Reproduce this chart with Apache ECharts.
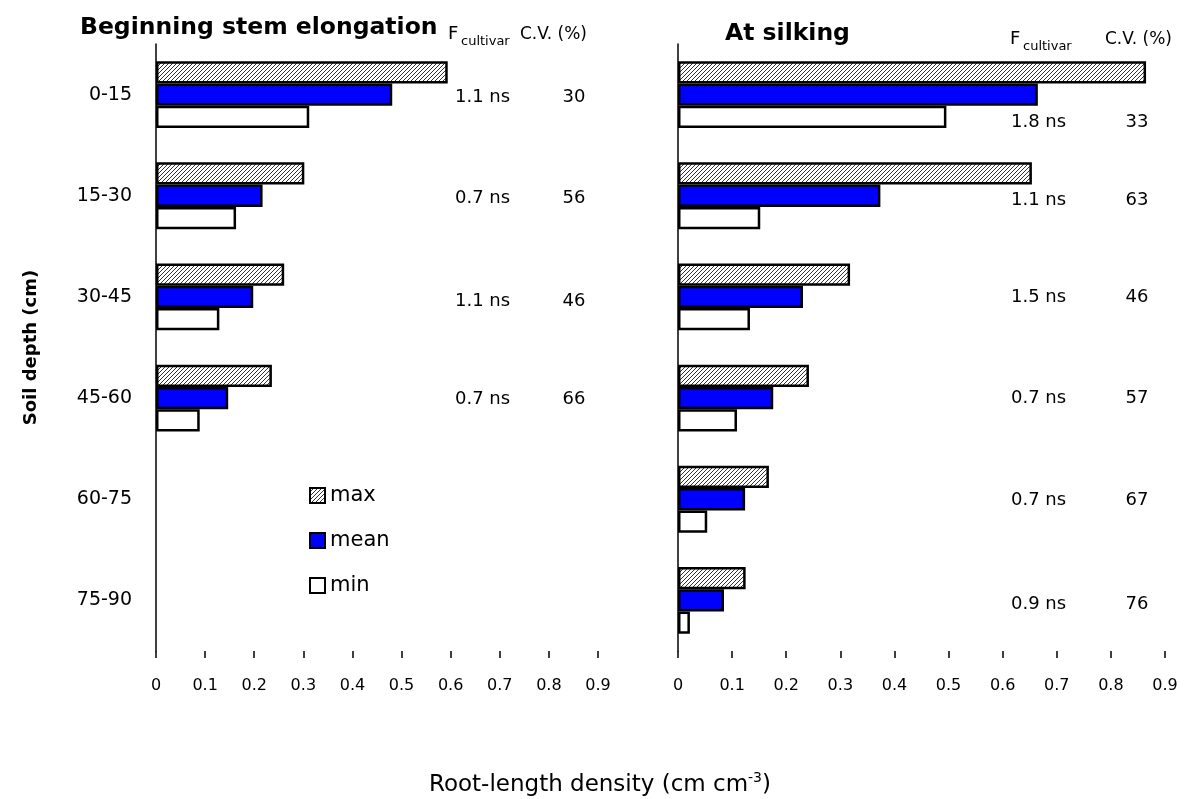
<!DOCTYPE html>
<html>
<head>
<meta charset="utf-8">
<script src="https://cdn.jsdelivr.net/npm/echarts@6/dist/echarts.min.js"></script>
<style>
html,body{margin:0;padding:0;background:#fff}
#chart{width:1197px;height:799px}
</style>
</head>
<body>
<div id="chart"></div>
<script>
// soil depth classes
var depths = ['0-15', '15-30', '30-45', '45-60', '60-75', '75-90'];
// beginning stem elongation
var stemMax  = [0.594, 0.302, 0.261, 0.236, '-', '-'];
var stemMean = [0.481, 0.217, 0.198, 0.147, '-', '-'];
var stemMin  = [0.312, 0.163, 0.129, 0.089, '-', '-'];
var stemF  = ['1.1 ns', '0.7 ns', '1.1 ns', '0.7 ns'];
var stemCV = ['30', '56', '46', '66'];
// at silking
var silkMax  = [0.865, 0.654, 0.318, 0.242, 0.168, 0.125];
var silkMean = [0.665, 0.374, 0.231, 0.176, 0.124, 0.085];
var silkMin  = [0.496, 0.152, 0.133, 0.109, 0.054, 0.022];
var silkF  = ['1.8 ns', '1.1 ns', '1.5 ns', '0.7 ns', '0.7 ns', '0.9 ns'];
var silkCV = ['33', '63', '46', '57', '67', '76'];

var FONT = 'DejaVu Sans';

//斜线填充
function hatch() {
    var c = document.createElement('canvas');
    c.width = 4; c.height = 4;
    var ctx = c.getContext('2d');
    ctx.fillStyle = '#fff';
    ctx.fillRect(0, 0, 4, 4);
    ctx.strokeStyle = '#333';
    ctx.lineWidth = 1;
    ctx.beginPath();
    ctx.moveTo(0, 4); ctx.lineTo(4, 0);
    ctx.moveTo(-1, 1); ctx.lineTo(1, -1);
    ctx.moveTo(3, 5); ctx.lineTo(5, 3);
    ctx.stroke();
    return c;
}
var hatchFill = { image: hatch(), repeat: 'repeat' };

function barSeries(name, data, idx, fill) {
    return {
        name: name,
        type: 'bar',
        xAxisIndex: idx,
        yAxisIndex: idx,
        data: data,
        barGap: '0%',
        barCategoryGap: '34%',
        itemStyle: { color: fill, borderColor: '#000', borderWidth: 2.5 },
        emphasis: { disabled: true }
    };
}

function xAxisOf(idx) {
    return {
        gridIndex: idx,
        type: 'value',
        min: 0,
        max: 0.9,
        interval: 0.1,
        splitLine: { show: false },
        axisLine: { lineStyle: { color: '#000', width: 1.5 } },
        axisTick: { show: true, length: 7, lineStyle: { color: '#000', width: 1.5 } },
        axisLabel: { color: '#000', fontFamily: FONT, fontSize: 16, margin: 27 }
    };
}

var myChart = echarts.init(document.getElementById('chart'));
var option = {
    backgroundColor: '#fff',
    animation: false,
    grid: [
        { left: 156, top: 44, width: 442, height: 607 },
        { left: 678, top: 44, width: 487, height: 607 }
    ],
    legend: {
        data: ['max', 'mean', 'min'],
        orient: 'vertical',
        left: 304,
        top: 480,
        icon: 'rect',
        itemWidth: 15,
        itemHeight: 15,
        itemGap: 24,
        textStyle: { color: '#000', fontFamily: FONT, fontSize: 21, lineHeight: 16 }
    },
    xAxis: [xAxisOf(0), xAxisOf(1)],
    yAxis: [
        {
            gridIndex: 0,
            type: 'category',
            data: depths,
            inverse: true,
            axisLine: { lineStyle: { color: '#000', width: 1.5 } },
            axisTick: { show: false },
            axisLabel: { color: '#000', fontFamily: FONT, fontSize: 19, margin: 24 },
            name: 'Soil depth (cm)',
            nameLocation: 'middle',
            nameRotate: 90,
            nameGap: 116,
            nameTextStyle: { color: '#000', fontFamily: FONT, fontSize: 18, fontWeight: 'bold' }
        },
        {
            gridIndex: 1,
            type: 'category',
            data: depths,
            inverse: true,
            axisLine: { lineStyle: { color: '#000', width: 1.5 } },
            axisTick: { show: false },
            axisLabel: { show: false }
        }
    ],
    series: [
        barSeries('max', stemMax, 0, hatchFill),
        barSeries('mean', stemMean, 0, '#0000ff'),
        barSeries('min', stemMin, 0, '#fff'),
        barSeries('max', silkMax, 1, hatchFill),
        barSeries('mean', silkMean, 1, '#0000ff'),
        barSeries('min', silkMin, 1, '#fff')
    ]
};
myChart.setOption(option);

//文字标注
function txt(s, x, y, size, bold, align) {
    return {
        type: 'text',
        style: {
            text: s, x: x, y: y,
            fill: '#000',
            fontFamily: FONT,
            fontSize: size,
            fontWeight: bold ? 'bold' : 'normal',
            align: align || 'left',
            verticalAlign: 'middle'
        }
    };
}
var els = [];
els.push(txt('Beginning stem elongation', 80, 28, 23.5, true));
els.push(txt('F', 448, 34, 18));
els.push(txt('cultivar', 461, 42, 13));
els.push(txt('C.V. (%)', 520, 35, 17));
els.push(txt('At silking', 725, 34, 23.5, true));
els.push(txt('F', 1010, 39, 18));
els.push(txt('cultivar', 1023, 47, 13));
els.push(txt('C.V. (%)', 1105, 40, 17));

var stemOff = [3, 3, 4, 1];
var silkOff = [28, 5, 0, 0, 1, 4];
$each = function (arr, fn) { for (var i = 0; i < arr.length; i++) fn(i, arr[i]); };
$each(stemF, function (i, s) {
    var y = myChart.convertToPixel({ yAxisIndex: 0 }, depths[i]) + stemOff[i];
    els.push(txt(s, 455, y, 18));
    els.push(txt(stemCV[i], 574, y, 18, false, 'center'));
});
$each(silkF, function (i, s) {
    var y = myChart.convertToPixel({ yAxisIndex: 1 }, depths[i]) + silkOff[i];
    els.push(txt(s, 1011, y, 18));
    els.push(txt(silkCV[i], 1137, y, 18, false, 'center'));
});
els.push({
    type: 'text',
    style: {
        text: 'Root-length density (cm cm{sup|-3})',
        x: 600, y: 785,
        fill: '#000',
        fontFamily: FONT,
        fontSize: 23,
        align: 'center',
        verticalAlign: 'middle',
        rich: { sup: { fontSize: 14, fontFamily: FONT, fill: '#000', padding: [0, 0, 13, 0] } }
    }
});
myChart.setOption({ graphic: els });
</script>
</body>
</html>
